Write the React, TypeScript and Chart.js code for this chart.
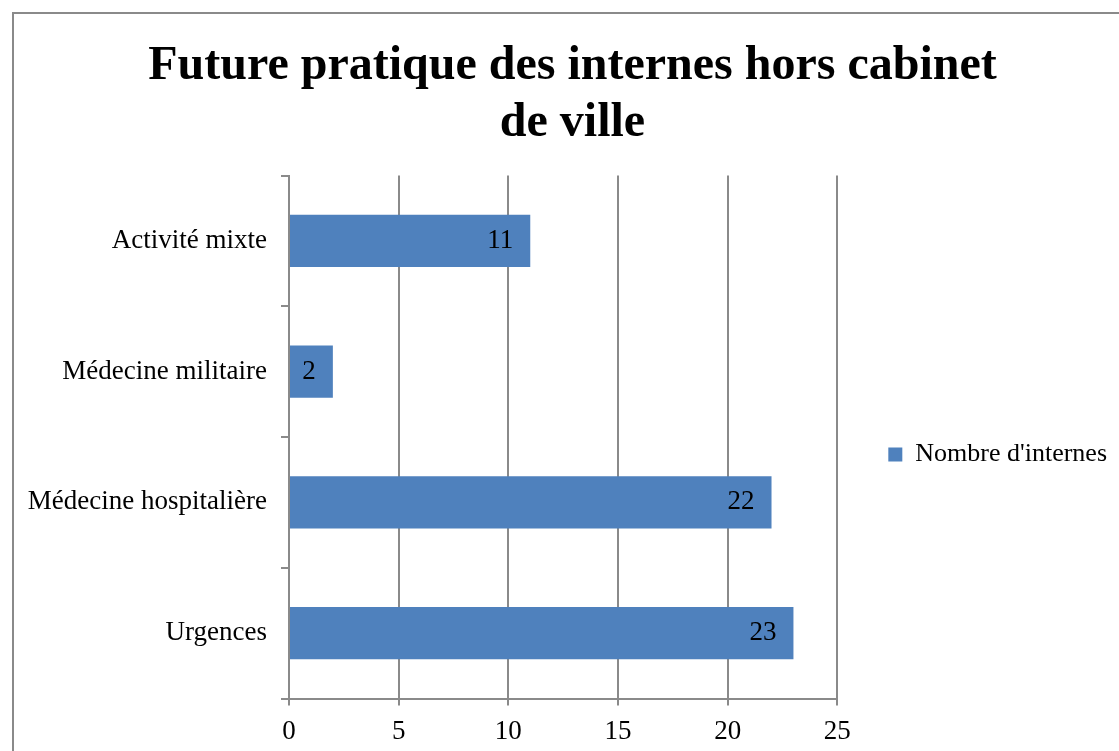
import React, { useEffect, useRef } from "react";
import { Chart, registerables } from "chart.js";

Chart.register(...registerables);

const titleLines = ["Future pratique des internes hors cabinet", "de ville"];
const categories = ["Activité mixte", "Médecine militaire", "Médecine hospitalière", "Urgences"];
const seriesName = "Nombre d'internes";
const values = [11, 2, 22, 23];
const xMin = 0;
const xMax = 25;
const xStep = 5;

const FONT = "'Liberation Serif', 'Times New Roman', serif";
const GRID = "#8a8a8a";
const BAR = "#4F81BD";
const FS = 27;

const framePlugin = {
  id: "frame",
  beforeDraw(chart: any) {
    const ctx = chart.ctx;
    ctx.save();
    ctx.strokeStyle = GRID;
    ctx.lineWidth = 2;
    ctx.strokeRect(13, 13, chart.width + 100, chart.height + 100);
    ctx.restore();
  },
};

const valueLabelPlugin = {
  id: "valueLabels",
  afterDatasetsDraw(chart: any) {
    const ctx = chart.ctx;
    ctx.save();
    ctx.font = `${FS}px ${FONT}`;
    ctx.fillStyle = "#000";
    ctx.textAlign = "right";
    ctx.textBaseline = "middle";
    chart.data.datasets.forEach((ds: any, di: number) => {
      const meta = chart.getDatasetMeta(di);
      meta.data.forEach((el: any, i: number) => {
        ctx.fillText(String(ds.data[i]), el.x - 17, el.y);
      });
    });
    ctx.restore();
  },
};

export default function App() {
  const ref = useRef<HTMLCanvasElement | null>(null);
  useEffect(() => {
    if (!ref.current) return;
    const chart = new Chart(ref.current, {
      type: "bar",
      data: {
        labels: categories,
        datasets: [
          {
            label: seriesName,
            data: values,
            backgroundColor: BAR,
            borderWidth: 0,
            barPercentage: 0.4,
            categoryPercentage: 1,
          },
        ],
      },
      options: {
        indexAxis: "y",
        animation: false,
        responsive: false,
        layout: { padding: { left: 28, right: 2, top: 0, bottom: 0 } },
        plugins: {
          title: {
            display: true,
            text: titleLines,
            color: "#000",
            font: { family: FONT, size: 48, weight: "bold", lineHeight: 1.2 },
            padding: { top: 37.5, bottom: 22.8 },
          },
          legend: {
            display: true,
            position: "right",
            fullSize: false,
            maxWidth: 282,
            title: {
              display: true,
              text: " ",
              font: { size: 10, lineHeight: 1.2 },
              padding: { top: 0, bottom: 23 },
            },
            labels: {
              boxWidth: 14,
              boxHeight: 14,
              padding: 51,
              color: "#000",
              font: { family: FONT, size: 26 },
            },
          },
          tooltip: { enabled: false },
        },
        scales: {
          x: {
            type: "linear",
            min: xMin,
            max: xMax,
            ticks: {
              stepSize: xStep,
              color: "#000",
              padding: 10,
              font: { family: FONT, size: FS },
            },
            grid: {
              color: GRID,
              lineWidth: 2,
              drawTicks: true,
              tickLength: 7,
            },
            border: { display: true, color: GRID, width: 2 },
            afterFit: (s: any) => {
              s.height = 52.5;
            },
          },
          y: {
            type: "category",
            ticks: {
              color: "#000",
              padding: 14,
              font: { family: FONT, size: FS },
            },
            grid: {
              offset: true,
              drawOnChartArea: false,
              drawTicks: true,
              tickLength: 8,
              color: GRID,
              lineWidth: 2,
            },
            border: { display: true, color: GRID, width: 2 },
            afterFit: (s: any) => {
              s.width = 261;
            },
          },
        },
      },
      plugins: [framePlugin, valueLabelPlugin],
    } as any);
    return () => chart.destroy();
  }, []);
  return (
    <div style={{ position: "absolute", left: 0, top: 0, width: 1119, height: 751 }}>
      <canvas ref={ref} width={1119} height={751} style={{ display: "block" }} />
    </div>
  );
}
